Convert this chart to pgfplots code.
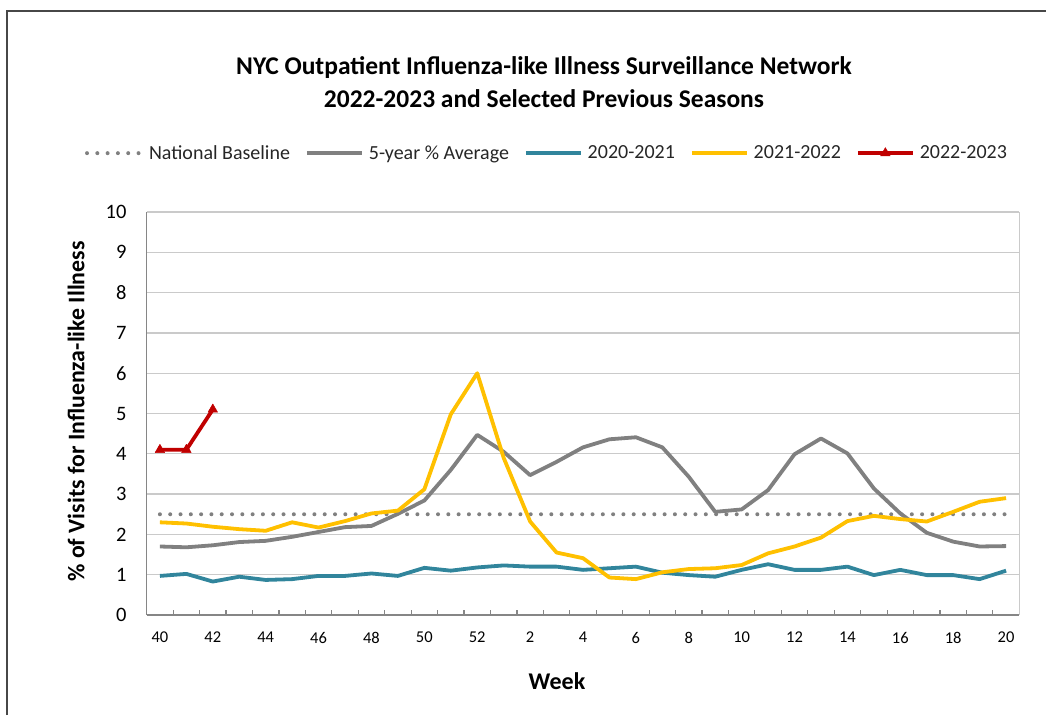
\documentclass[border=0pt]{standalone}
\usepackage{fontspec}
\setmainfont{Carlito}
\usepackage{pgfplots}
\pgfplotsset{compat=1.18}
\definecolor{cgray}{HTML}{808080}
\definecolor{cteal}{HTML}{31859C}
\definecolor{cyel}{HTML}{FFC000}
\definecolor{cred}{HTML}{C00000}
\definecolor{gridc}{HTML}{CACACA}
\definecolor{axisc}{HTML}{868686}
\definecolor{txt}{HTML}{262626}
\begin{document}
\begin{tikzpicture}
\path[use as bounding box] (0pt,0pt) rectangle (1046pt,715pt);
\draw[color=black!72, line width=1.4pt] (7pt,0pt) -- (7pt,704pt) -- (1046pt,704pt);
\node[font=\fontsize{25.5}{30}\selectfont\bfseries, text=black] at (544pt,647pt) {NYC Outpatient Influenza-like Illness Surveillance Network};
\node[font=\fontsize{25.5}{30}\selectfont\bfseries, text=black] at (544pt,616pt) {2022-2023 and Selected Previous Seasons};
\node[font=\fontsize{23.8}{28}\selectfont\bfseries, text=black, rotate=90] at (76pt,303.5pt) {\% of Visits for Influenza-like Illness};
\node[font=\fontsize{24}{28}\selectfont\bfseries, text=black] at (557pt,34pt) {Week};
\begin{axis}[
  at={(146.7pt,100pt)}, anchor=south west,
  scale only axis, width=872.6pt, height=403pt,
  xmin=-0.5, xmax=32.5, ymin=0, ymax=10,
  axis lines=left,
  x axis line style={-, draw=axisc, line width=1.5pt},
  y axis line style={-, draw=axisc, line width=1.5pt},
  ytick={0,1,...,10},
  xtick={0,2,...,32},
  xticklabels={40,42,44,46,48,50,52,2,4,6,8,10,12,14,16,18,20},
  minor xtick={0.5,1.5,...,31.5},
  extra x ticks={32.5},
  extra x tick style={grid=major, major grid style={draw=gridc, line width=1.3pt}, xticklabel=\empty, major tick length=0pt},
  tick align=inside,
  major tick length=0pt,
  minor tick length=5pt,
  minor tick style={draw=axisc, line width=1.2pt},
  ymajorgrids,
  major grid style={draw=gridc, line width=1.3pt},
  /pgf/number format/assume math mode=true,
  ticklabel style={text=black},
  xticklabel style={font=\fontsize{16.5}{20}\selectfont, inner sep=0pt, anchor=north, yshift=-17pt},
  yticklabel style={font=\fontsize{20.5}{24}\selectfont, inner sep=0pt, anchor=east, xshift=-20pt},
  clip=false,
  legend columns=5,
  legend style={at={(axis description cs:0.4576,1.146)}, anchor=center, draw=none, fill=none,
    font=\fontsize{20}{24}\selectfont, text=txt,
    /tikz/every odd column/.append style={column sep=5pt},
    /tikz/every even column/.append style={column sep=15pt},
    nodes={inner sep=0pt}},
  legend cell align=left,
  legend image code/.code={\draw[mark repeat=2,mark phase=2,#1] plot coordinates {(0pt,0pt) (27.5pt,0pt) (55pt,0pt)};},
]
\addplot[color=cgray, line width=4pt, line cap=round, dash pattern=on 0pt off 10.3pt] coordinates {
(0,2.5)(1,2.5)(2,2.5)(3,2.5)(4,2.5)(5,2.5)(6,2.5)(7,2.5)(8,2.5)(9,2.5)(10,2.5)(11,2.5)(12,2.5)(13,2.5)(14,2.5)(15,2.5)(16,2.5)(17,2.5)(18,2.5)(19,2.5)(20,2.5)(21,2.5)(22,2.5)(23,2.5)(24,2.5)(25,2.5)(26,2.5)(27,2.5)(28,2.5)(29,2.5)(30,2.5)(31,2.5)(32,2.5)};
\addlegendentry{National Baseline}
\addplot[color=cgray, line width=3.8pt, line join=round] coordinates {
(0,1.70)(1,1.68)(2,1.73)(3,1.81)(4,1.84)(5,1.94)(6,2.06)(7,2.18)(8,2.21)(9,2.51)(10,2.84)(11,3.60)(12,4.47)(13,4.05)(14,3.47)(15,3.80)(16,4.16)(17,4.36)(18,4.41)(19,4.16)(20,3.43)(21,2.56)(22,2.62)(23,3.10)(24,3.99)(25,4.38)(26,4.01)(27,3.14)(28,2.52)(29,2.04)(30,1.82)(31,1.70)(32,1.71)};
\addlegendentry{5-year \% Average}
\addplot[color=cteal, line width=3.8pt, line join=round] coordinates {
(0,0.97)(1,1.02)(2,0.83)(3,0.95)(4,0.87)(5,0.89)(6,0.97)(7,0.97)(8,1.03)(9,0.97)(10,1.17)(11,1.10)(12,1.18)(13,1.23)(14,1.20)(15,1.20)(16,1.12)(17,1.16)(18,1.20)(19,1.05)(20,0.99)(21,0.95)(22,1.12)(23,1.26)(24,1.12)(25,1.12)(26,1.20)(27,0.99)(28,1.12)(29,0.99)(30,0.99)(31,0.89)(32,1.10)};
\addlegendentry{2020-2021}
\addplot[color=cyel, line width=3.8pt, line join=round] coordinates {
(0,2.30)(1,2.27)(2,2.19)(3,2.13)(4,2.09)(5,2.30)(6,2.17)(7,2.33)(8,2.52)(9,2.59)(10,3.12)(11,4.98)(12,6.00)(13,3.90)(14,2.32)(15,1.55)(16,1.41)(17,0.93)(18,0.89)(19,1.06)(20,1.14)(21,1.16)(22,1.24)(23,1.53)(24,1.70)(25,1.92)(26,2.33)(27,2.46)(28,2.38)(29,2.32)(30,2.56)(31,2.81)(32,2.90)};
\addlegendentry{2021-2022}
\addplot[color=cred, line width=3.8pt, line join=round, mark=triangle*, mark size=5.5pt, mark options={line width=0.5pt}] coordinates {
(0,4.1)(1,4.1)(2,5.1)};
\addlegendentry{2022-2023}
\end{axis}
\end{tikzpicture}
\end{document}
